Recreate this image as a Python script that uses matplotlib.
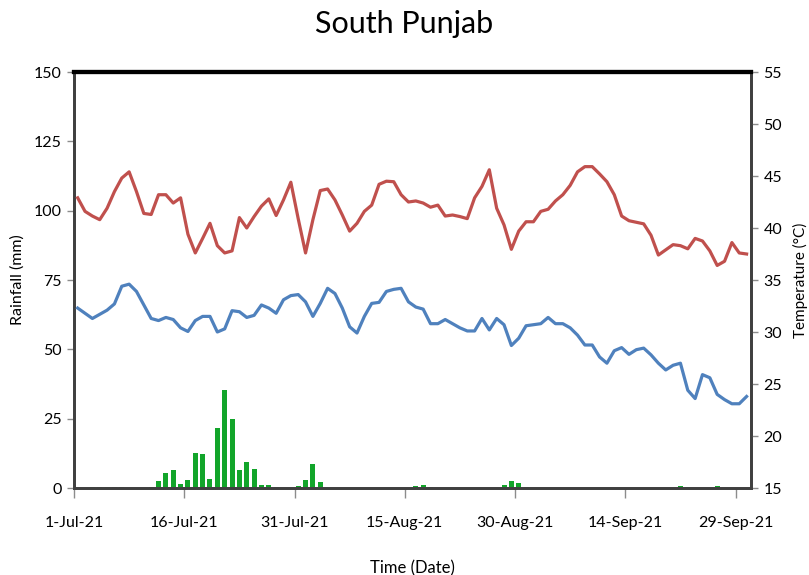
import numpy as np
import pandas as pd
import matplotlib
matplotlib.use("Agg")
import matplotlib.pyplot as plt
import matplotlib.dates as mdates

FONT = ['Lato', 'DejaVu Sans']
plt.rcParams['font.family'] = FONT

dates = pd.date_range('2021-07-01', '2021-09-30', freq='D')

rainfall = np.zeros(92)
rain_days = [2, 3, 4, 5, 6, 10, 11, 12, 13, 14, 15, 16, 17, 18, 19, 20, 21, 22, 23, 24,
             25, 26, 27, 28, 29, 30, 31, 32, 33, 34, 37, 44, 46, 47, 48, 58, 59, 60, 61,
             62, 80, 81, 82, 83, 87, 88]
rain_vals = [0.2, 0.2, 0.2, 0.2, 0.2, 0.2, 2.6, 5.5, 6.5, 1.6, 2.8, 12.5, 12.2, 3.1, 21.5,
             35.4, 25.0, 6.5, 9.5, 6.8, 1.2, 1.2, 0.5, 0.1, 0.1, 0.9, 2.8, 8.8, 2.0, 0.1,
             0.1, 0.1, 0.7, 1.1, 0.2, 1.0, 2.6, 1.8, 0.5, 0.1, 0.1, 0.1, 0.6, 0.2, 0.6, 0.1]
rainfall[rain_days] = rain_vals

tmax = [42.9, 41.6, 41.15, 40.8, 41.9, 43.5, 44.8, 45.4, 43.5, 41.4, 41.3, 43.2, 43.2, 42.4,
        42.9, 39.4, 37.6, 39.0, 40.45, 38.3, 37.6, 37.8, 41.0, 40.0, 41.1, 42.1, 42.8, 41.2,
        42.7, 44.4, 40.9, 37.6, 40.8, 43.6, 43.75, 42.7, 41.25, 39.7, 40.45, 41.6, 42.2,
        44.2, 44.5, 44.45, 43.2, 42.5, 42.6, 42.4, 42.0, 42.2, 41.15, 41.25, 41.1, 40.9,
        42.9, 44.0, 45.6, 41.9, 40.3, 37.95, 39.7, 40.6, 40.6, 41.6, 41.8, 42.6, 43.2,
        44.1, 45.4, 45.9, 45.9, 45.2, 44.45, 43.2, 41.15, 40.7, 40.55, 40.4, 39.3, 37.4,
        37.9, 38.4, 38.3, 38.0, 39.0, 38.75, 37.8, 36.4, 36.8, 38.6, 37.6, 37.5]

tmin = [32.3, 31.8, 31.3, 31.7, 32.1, 32.7, 34.4, 34.6, 33.9, 32.6, 31.3, 31.1, 31.4, 31.2,
        30.4, 30.05, 31.1, 31.5, 31.5, 30.0, 30.3, 32.05, 31.95, 31.4, 31.6, 32.6, 32.3,
        31.8, 33.1, 33.5, 33.6, 32.9, 31.5, 32.75, 34.2, 33.7, 32.3, 30.5, 29.9, 31.5,
        32.75, 32.85, 33.9, 34.1, 34.2, 32.9, 32.4, 32.2, 30.8, 30.8, 31.2, 30.8, 30.4,
        30.1, 30.1, 31.3, 30.2, 31.3, 30.7, 28.7, 29.4, 30.6, 30.7, 30.8, 31.4, 30.8,
        30.8, 30.4, 29.7, 28.75, 28.75, 27.6, 27.0, 28.2, 28.5, 27.85, 28.3, 28.45, 27.8,
        27.0, 26.35, 26.8, 27.0, 24.4, 23.6, 25.9, 25.6, 24.0, 23.5, 23.1, 23.1, 23.8]

title = 'South Punjab'
left_label = 'Rainfall (mm)'
right_label = 'Temperature (°C)'
x_label = 'Time (Date)'

fig = plt.figure(figsize=(8.09, 5.75), dpi=100)
ax = fig.add_axes([74 / 809, 1 - 488 / 575, (751 - 74) / 809, (488 - 72) / 575])
ax2 = ax.twinx()

xpos = dates + pd.Timedelta(hours=12)

ax.bar(xpos, rainfall, width=0.68, color='#12A52A', zorder=2)
ax2.plot(xpos, tmax, color='#C0504D', lw=2.3, solid_joinstyle='round', zorder=3)
ax2.plot(xpos, tmin, color='#4F81BD', lw=2.3, solid_joinstyle='round', zorder=3)

x0 = mdates.date2num(dates[0])
ax.set_xlim(x0, x0 + 92.1)
ax.set_ylim(0, 150)
ax2.set_ylim(15, 55)
ax.set_yticks(np.arange(0, 151, 25))
ax2.set_yticks(np.arange(15, 56, 5))

tick_dates = pd.date_range('2021-07-01', periods=7, freq='15D')
ax.set_xticks(mdates.date2num(tick_dates))
ax.set_xticklabels([f"{d.day}-{d.strftime('%b')}-{d.strftime('%y')}" for d in tick_dates])

for a in (ax, ax2):
    a.tick_params(axis='both', which='both', direction='out', length=5, width=1,
                  color='#8C8C8C', labelsize=11.5, pad=4)
    for s in a.spines.values():
        s.set_linewidth(2)
        s.set_color('#404040')
    a.spines['top'].set_linewidth(3)
    a.spines['top'].set_color('black')
ax.tick_params(axis='x', length=7, pad=13)

ax.set_ylabel(left_label, fontsize=11.5)
ax.yaxis.set_label_coords((25 - 74) / 677, 0.5)
ax2.set_ylabel(right_label, fontsize=11)
ax2.yaxis.set_label_coords((793 - 74) / 677, 0.5)
ax.set_xlabel(x_label, fontsize=12, labelpad=22)
fig.suptitle(title, fontsize=22, y=0.982)

fig.savefig('out.png', dpi=100)
